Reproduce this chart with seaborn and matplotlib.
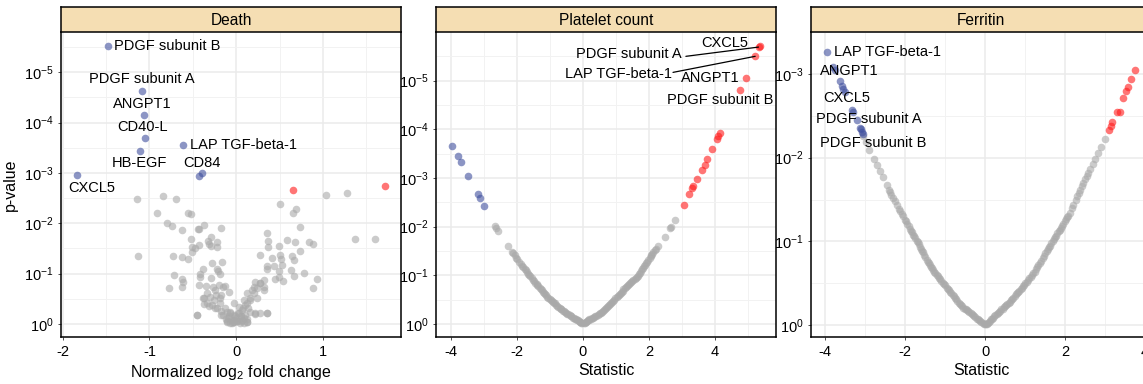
import numpy as np
import pandas as pd
import matplotlib
matplotlib.use("Agg")
import matplotlib.pyplot as plt
import seaborn as sns

# ---------------- data ----------------
# Panel 1: Death  (x = normalized log2 fold change, y = -log10 p)
death_gray_x = [-1.14, -0.84, -0.69, -0.91, -0.80, -0.74, -0.56, -0.52, -0.63, -0.44, -0.43, -0.37, -0.18,
                -0.52, -0.29, -0.32, -0.22, -0.43, -0.51, -0.47, -0.31, -0.29, -0.51, -0.22, -1.13, -0.73,
                -0.63, -0.55, -0.16, -0.28, -0.38, -0.22, -0.21, -0.42, -0.19, -0.72, -0.62, -0.29, -0.42,
                -0.61, -0.62, -0.77, -0.43, -0.35, -0.27, -0.20, -0.13, -0.08, -0.37, -0.30, -0.23, -0.45,
                -0.37, -0.31, -0.19, -0.24, -0.17, -0.11, -0.15, -0.07, -0.09, -0.03, -0.11, -0.05, 0.01,
                -0.01, -0.26, -0.34, -0.19,
                0.51, 0.69, 0.65, 0.35, 0.58, 0.68, 0.37, 0.37, 0.49, 0.74, 0.84, 0.88, 0.74, 0.27, 0.41,
                0.50, 0.52, 0.64, 0.67, 0.36, 0.36, 0.53, 0.43, 0.63, 0.78, 0.49, 0.49, 0.45, 0.54, 0.67,
                0.93, 0.89, 0.35, 0.28, 0.22, 0.12, 0.20, 0.32, 0.24, 0.16, 0.10, 0.07, 0.14, 0.05, 0.28,
                0.32, 0.22, 0.18, 0.09, 0.03, 0.09, 0.12,
                1.04, 1.28, 1.37, 1.60,
                -0.11, -0.05, 0.01, 0.07, 0.12, -0.03, 0.02, -0.07, -0.13, -0.17, -0.22, -0.28, -0.34, -0.38,
                -0.45, 0.08, 0.12, 0.16, 0.20, 0.24, 0.28, 0.32, 0.16, 0.22, 0.35, 0.03, -0.03, -0.18, -0.24,
                -0.15, -0.08, 0.00, 0.05, 0.10, 0.09, -0.07, 0.04, -0.02, 0.13, -0.12, 0.06, -0.04]
death_gray_y = [2.49, 2.55, 2.48, 2.21, 2.00, 1.95, 2.21, 2.19, 1.87, 1.88, 1.89, 1.96, 1.90,
                1.69, 1.73, 1.65, 1.63, 1.57, 1.53, 1.51, 1.58, 1.55, 1.43, 1.53, 1.34, 1.34,
                1.32, 1.28, 1.24, 1.21, 1.10, 1.10, 1.06, 1.00, 0.99, 0.98, 0.89, 0.91, 0.93,
                0.83, 0.73, 0.71, 0.77, 0.76, 0.73, 0.77, 0.75, 0.63, 0.52, 0.53, 0.58, 0.18,
                0.39, 0.36, 0.41, 0.31, 0.26, 0.24, 0.18, 0.21, 0.11, 0.08, 0.03, 0.01, 0.05,
                0.15, 0.48, 0.61, 0.51,
                2.39, 2.29, 2.21, 1.80, 1.67, 1.63, 1.64, 1.53, 1.55, 1.92, 1.63, 1.59, 1.45, 1.36, 1.30,
                1.37, 1.28, 1.34, 1.27, 1.15, 1.10, 1.18, 1.16, 1.07, 1.02, 1.05, 0.94, 0.89, 0.85, 0.95,
                0.90, 0.71, 0.21, 0.21, 0.20, 0.61, 0.74, 0.67, 0.51, 0.48, 0.37, 0.27, 0.31, 0.15, 0.81,
                0.87, 0.84, 0.67, 0.48, 0.21, 0.11, 0.03,
                2.56, 2.61, 1.69, 1.69,
                0.05, 0.08, 0.05, 0.08, 0.03, 0.18, 0.21, 0.24, 0.31, 0.18, 0.31, 0.38, 0.41, 0.51,
                0.18, 0.31, 0.41, 0.51, 0.61, 0.71, 0.81, 0.74, 0.24, 0.21, 0.21, 0.34, 0.41, 0.58, 0.67,
                0.74, 0.15, 0.12, 0.15, 0.18, 0.01, 0.01, 0.02, 0.04, 0.09, 0.10, 0.06, 0.03]
death_up_x = [0.65, 1.71]
death_up_y = [2.66, 2.74]
death_down_names = ["PDGF subunit B", "PDGF subunit A", "ANGPT1", "CD40-L", "LAP TGF-beta-1",
                    "HB-EGF", "CD84", "CD84b", "CXCL5"]
death_down_x = [-1.48, -1.09, -1.06, -1.05, -0.61, -1.11, -0.43, -0.40, -1.84]
death_down_y = [5.52, 4.62, 4.16, 3.69, 3.55, 3.43, 2.94, 3.00, 2.96]

# Panel 2: Platelet count (x = statistic, y = -log10 p)
plt_gray_x = [-2.67, -2.62, -2.56, -2.27, -2.15, -2.11, -2.07, -2.02, -1.99, -1.88, -1.84, -1.81, -1.76,
              -1.70, -1.65, -1.60, -1.55, -1.51, -1.45, -1.40, -1.35, -1.28, -1.22, -1.18, -1.12, -1.05,
              -1.00, -0.95, -0.90, -0.85, -0.80, -0.74, -0.70, -0.65, -0.60, -0.55, -0.50, -0.45, -0.40,
              -0.35, -0.30, -0.25, -0.20, -0.16, -0.12, -0.08, -0.05, -0.02,
              0.02, 0.05, 0.08, 0.12, 0.16, 0.20, 0.25, 0.30, 0.35, 0.40, 0.45, 0.52, 0.58, 0.64, 0.70,
              0.76, 0.82, 0.88, 0.95, 1.02, 1.08, 1.14, 1.20, 1.27, 1.34, 1.40, 1.46, 1.53, 1.60, 1.66,
              1.73, 1.80, 1.86, 1.92, 1.98, 2.05, 2.10, 2.13, 2.18, 2.22, 2.29, 2.48, 2.65, 2.67, 2.79,
              -1.93, -1.73, -1.62, -1.48, -1.38, -1.31, -1.25, -1.15, -1.08, -0.97, -0.87, -0.77, -0.67,
              -0.57, -0.47, -0.37, -0.27, -0.18, -0.10,
              0.10, 0.18, 0.27, 0.37, 0.48, 0.55, 0.61, 0.67, 0.73, 0.79, 0.85, 0.91, 0.98, 1.05, 1.11,
              1.17, 1.23, 1.30, 1.37, 1.43, 1.50, 1.57, 1.63, 1.70, 1.76, 1.83, 1.89, 1.95, 2.02, 2.07]
plt_gray_y = [2.02, 1.97, 1.91, 1.60, 1.48, 1.45, 1.41, 1.36, 1.33, 1.23, 1.19, 1.16, 1.12,
              1.07, 1.02, 0.98, 0.94, 0.90, 0.85, 0.81, 0.77, 0.71, 0.66, 0.63, 0.59, 0.54,
              0.51, 0.48, 0.45, 0.42, 0.38, 0.35, 0.32, 0.30, 0.27, 0.25, 0.22, 0.20, 0.18,
              0.16, 0.13, 0.11, 0.09, 0.07, 0.05, 0.035, 0.02, 0.01,
              0.01, 0.02, 0.035, 0.05, 0.07, 0.09, 0.11, 0.13, 0.15, 0.17, 0.19, 0.22, 0.25, 0.29, 0.32,
              0.36, 0.40, 0.44, 0.50, 0.56, 0.60, 0.64, 0.68, 0.74, 0.78, 0.82, 0.86, 0.90, 0.95, 0.99,
              1.04, 1.12, 1.18, 1.25, 1.31, 1.39, 1.44, 1.47, 1.51, 1.54, 1.60, 1.79, 1.97, 1.99, 2.14,
              1.28, 1.10, 1.00, 0.88, 0.79, 0.74, 0.69, 0.61, 0.56, 0.50, 0.43, 0.37, 0.31,
              0.26, 0.21, 0.17, 0.12, 0.08, 0.04,
              0.04, 0.08, 0.12, 0.16, 0.20, 0.23, 0.27, 0.30, 0.34, 0.38, 0.42, 0.46, 0.53, 0.58, 0.62,
              0.66, 0.71, 0.76, 0.80, 0.84, 0.88, 0.93, 0.97, 1.02, 1.08, 1.15, 1.21, 1.28, 1.35, 1.42]
plt_up_names = ["CXCL5", "PDGF subunit A", "LAP TGF-beta-1", "ANGPT1", "PDGF subunit B"]
plt_up_named_x = [5.36, 5.32, 5.22, 4.93, 4.75]
plt_up_named_y = [5.72, 5.69, 5.50, 5.06, 4.80]
plt_up_x = [4.15, 4.10, 4.07, 3.92, 3.77, 3.69, 3.61, 3.45, 3.34, 3.31, 3.22, 3.05]
plt_up_y = [3.92, 3.86, 3.81, 3.59, 3.38, 3.27, 3.16, 2.97, 2.83, 2.80, 2.67, 2.45]
plt_down_x = [-3.96, -3.78, -3.70, -3.48, -3.19, -3.12, -2.99]
plt_down_y = [3.66, 3.46, 3.32, 3.04, 2.66, 2.58, 2.43]

# Panel 3: Ferritin (x = statistic, y = -log10 p)
fer_gray_x = [-3.04, -2.98, -2.89, -2.77, -2.69, -2.62, -2.55, -2.46, -2.40, -2.34, -2.29, -2.25, -2.21,
              -2.15, -2.08, -2.00, -1.94, -1.88, -1.83, -1.77, -1.71, -1.66, -1.60, -1.55, -1.50, -1.46,
              -1.40, -1.35, -1.29, -1.24, -1.18, -1.12, -1.06, -1.00, -0.96, -0.90, -0.84, -0.78, -0.72,
              -0.66, -0.60, -0.54, -0.48, -0.42, -0.36, -0.30, -0.24, -0.18, -0.12, -0.06, 0.00,
              0.05, 0.10, 0.15, 0.20, 0.25, 0.29, 0.35, 0.41, 0.47, 0.53, 0.59, 0.65, 0.71, 0.77, 0.83,
              0.89, 0.95, 1.01, 1.07, 1.14, 1.21, 1.27, 1.33, 1.40, 1.47, 1.54, 1.60, 1.66, 1.72, 1.78,
              1.84, 1.90, 1.96, 2.03, 2.08, 2.13, 2.18, 2.21, 2.27, 2.34, 2.42, 2.50, 2.57, 2.63, 2.69,
              2.75, 2.83, 2.90, 3.00,
              -2.37, -2.12, -2.04, -1.97, -1.91, -1.85, -1.80, -1.74, -1.68, -1.63, -1.58, -1.52, -1.43,
              -1.38, -1.32, -1.27, -1.21, -1.15, -1.09, -1.03, -0.93, -0.87, -0.81, -0.75, -0.69, -0.63,
              -0.57, -0.51, -0.45, -0.39, -0.33, -0.27, -0.21, -0.15, -0.09, -0.03,
              0.03, 0.08, 0.12, 0.18, 0.23, 0.32, 0.38, 0.44, 0.50, 0.56, 0.62, 0.68, 0.74, 0.80, 0.86,
              0.92, 0.98, 1.04, 1.10, 1.17, 1.24, 1.30, 1.37, 1.44, 1.50, 1.57, 1.63, 1.69, 1.75, 1.81,
              1.87, 1.93, 2.00, 2.06, 2.30, 2.38, 2.46, 2.54]
fer_gray_y = [2.26, 2.19, 2.09, 1.99, 1.91, 1.84, 1.77, 1.68, 1.62, 1.56, 1.52, 1.48, 1.44,
              1.39, 1.33, 1.26, 1.21, 1.15, 1.11, 1.06, 1.01, 0.97, 0.91, 0.87, 0.82, 0.78,
              0.74, 0.70, 0.66, 0.62, 0.59, 0.55, 0.51, 0.48, 0.45, 0.42, 0.38, 0.35, 0.31,
              0.27, 0.24, 0.21, 0.19, 0.17, 0.15, 0.12, 0.10, 0.07, 0.05, 0.03, 0.01,
              0.02, 0.04, 0.07, 0.09, 0.12, 0.14, 0.16, 0.19, 0.22, 0.24, 0.27, 0.30, 0.33, 0.37, 0.40,
              0.43, 0.47, 0.50, 0.54, 0.58, 0.62, 0.67, 0.72, 0.77, 0.83, 0.89, 0.93, 0.98, 1.03, 1.07,
              1.12, 1.16, 1.21, 1.27, 1.31, 1.34, 1.40, 1.44, 1.50, 1.58, 1.66, 1.75, 1.82, 1.87, 1.93,
              1.98, 2.06, 2.13, 2.22,
              1.59, 1.36, 1.30, 1.24, 1.18, 1.13, 1.08, 1.04, 0.99, 0.94, 0.89, 0.84, 0.76,
              0.72, 0.68, 0.64, 0.60, 0.57, 0.53, 0.49, 0.43, 0.40, 0.36, 0.33, 0.29, 0.25,
              0.23, 0.20, 0.18, 0.16, 0.13, 0.11, 0.08, 0.06, 0.04, 0.02,
              0.01, 0.03, 0.05, 0.08, 0.11, 0.15, 0.17, 0.20, 0.23, 0.25, 0.28, 0.31, 0.35, 0.38, 0.41,
              0.45, 0.48, 0.52, 0.56, 0.60, 0.64, 0.70, 0.74, 0.80, 0.86, 0.91, 0.95, 1.00, 1.05, 1.10,
              1.14, 1.18, 1.24, 1.29, 1.54, 1.62, 1.70, 1.78]
fer_up_x = [3.11, 3.14, 3.18, 3.29, 3.38, 3.44, 3.52, 3.58, 3.64, 3.74]
fer_up_y = [2.33, 2.38, 2.42, 2.54, 2.54, 2.71, 2.79, 2.84, 2.94, 3.05]
fer_down_x = [-3.94, -3.79, -3.75, -3.63, -3.58, -3.54, -3.50, -3.33, -3.31, -3.21, -3.13, -3.11, -3.08, -3.04]
fer_down_y = [3.26, 3.08, 3.05, 2.91, 2.86, 2.82, 2.78, 2.57, 2.55, 2.45, 2.36, 2.34, 2.31, 2.28]

panel_titles = ["Death", "Platelet count", "Ferritin"]

# ---------------- style ----------------
sns.set_theme(style="white")
plt.rcParams["font.family"] = ["Liberation Sans", "DejaVu Sans"]
plt.rcParams["mathtext.fontset"] = "custom"
plt.rcParams["mathtext.rm"] = "Liberation Sans"
plt.rcParams["mathtext.it"] = "Liberation Sans:italic"
plt.rcParams["mathtext.bf"] = "Liberation Sans:bold"
plt.rcParams["text.color"] = "black"
plt.rcParams["axes.labelcolor"] = "black"
plt.rcParams["xtick.color"] = "black"
plt.rcParams["ytick.color"] = "black"

palette = {"ns": "#A9A9A9", "up": "#FF1A1A", "down": "#3F4F9E"}
PT_SIZE = 30
ALPHA = 0.6

fig = plt.figure(figsize=(11.43, 3.84), dpi=100)
W, H = 1143.0, 384.0
plot_top, plot_bot, head_top = 32, 337, 7
lefts = [61, 436, 811]
width = 340

def make_df(gx, gy, ux, uy, dx, dy):
    return pd.DataFrame({
        "x": list(gx) + list(ux) + list(dx),
        "y": list(gy) + list(uy) + list(dy),
        "grp": ["ns"] * len(gx) + ["up"] * len(ux) + ["down"] * len(dx),
    })

dfs = [
    make_df(death_gray_x, death_gray_y, death_up_x, death_up_y, death_down_x, death_down_y),
    make_df(plt_gray_x, plt_gray_y, plt_up_x + plt_up_named_x, plt_up_y + plt_up_named_y,
            plt_down_x, plt_down_y),
    make_df(fer_gray_x, fer_gray_y, fer_up_x, fer_up_y, fer_down_x, fer_down_y),
]

xlims = [(-2.02, 1.9), (-4.45, 5.85), (-4.35, 4.15)]
ylims = [(-0.26, 5.8), (-0.27, 6.0), (-0.14, 3.42)]
xmajor = [[-2, -1, 0, 1], [-4, -2, 0, 2, 4], [-4, -2, 0, 2, 4]]
xminor = [[-1.5, -0.5, 0.5, 1.5], [-3, -1, 1, 3, 5], [-3, -1, 1, 3]]
ymax_tick = [5, 5, 3]
xlabels = [r"Normalized log$_{2}$ fold change", "Statistic", "Statistic"]

axes = []
for i in range(3):
    l = lefts[i] / W
    ax = fig.add_axes([l, 1 - plot_bot / H, width / W, (plot_bot - plot_top) / H])
    hx = fig.add_axes([l, 1 - plot_top / H, width / W, (plot_top - head_top) / H])
    hx.set_facecolor("#F5DEB3")
    hx.set_xticks([]); hx.set_yticks([])
    for s in hx.spines.values():
        s.set_color("black"); s.set_linewidth(1.1)
    hx.text(0.5, 0.45, panel_titles[i], ha="center", va="center", fontsize=11.2,
            color="black", transform=hx.transAxes)

    d = dfs[i]
    for g in ["ns", "down", "up"]:
        sub = d[d["grp"] == g]
        sns.scatterplot(data=sub, x="x", y="y", color=palette[g], s=PT_SIZE, alpha=ALPHA,
                        linewidth=0, ax=ax, legend=False, zorder=3)
    ax.set_xlim(*xlims[i]); ax.set_ylim(*ylims[i])
    ax.set_xticks(xmajor[i]); ax.set_xticks(xminor[i], minor=True)
    ax.set_xticklabels([f"{v:g}" for v in xmajor[i]])
    yt = list(range(0, ymax_tick[i] + 1))
    ax.set_yticks(yt)
    ax.set_yticks([v + 0.5 for v in yt], minor=True)
    ax.set_yticklabels([r"$\mathregular{10^{%s}}$" % ("0" if v == 0 else "-%d" % v) for v in yt])
    ax.grid(which="major", color="#EBEBEB", linewidth=1.1, zorder=0)
    ax.grid(which="minor", color="#F2F2F2", linewidth=0.7, zorder=0)
    ax.set_axisbelow(True)
    ax.tick_params(axis="both", which="major", labelsize=10.5, length=2.5, width=0.6,
                   color="#333333", labelcolor="black", pad=3, left=True, bottom=True)
    ax.tick_params(which="minor", length=0)
    for side in ["left", "bottom", "right"]:
        ax.spines[side].set_color("black"); ax.spines[side].set_linewidth(1.1)
    ax.spines["top"].set_visible(False)
    ax.set_xlabel(xlabels[i], fontsize=11.5, labelpad=3, color="black")
    ax.set_ylabel("p-value" if i == 0 else "", fontsize=11.5, color="black")
    axes.append(ax)

# ---------------- labels ----------------
FS = 10.5
ax1, ax2, ax3 = axes
death_label_pos = {
    "PDGF subunit B": (-1.41, 5.52, "left"),
    "PDGF subunit A": (-1.09, 4.86, "center"),
    "ANGPT1": (-1.08, 4.37, "center"),
    "CD40-L": (-1.08, 3.91, "center"),
    "LAP TGF-beta-1": (-0.53, 3.55, "left"),
    "HB-EGF": (-1.11, 3.19, "center"),
    "CD84": (-0.39, 3.19, "center"),
    "CXCL5": (-1.66, 2.70, "center"),
}
for name, (lx, ly, ha) in death_label_pos.items():
    ax1.text(lx, ly, name, ha=ha, va="center", fontsize=FS, color="black", zorder=5)

plt_label_pos = {
    "CXCL5": (4.30, 5.78, "center", None),
    "PDGF subunit A": (3.00, 5.54, "right", (3.12, 5.50)),
    "LAP TGF-beta-1": (2.70, 5.13, "right", (2.73, 5.17)),
    "ANGPT1": (3.86, 5.06, "center", None),
    "PDGF subunit B": (4.15, 4.61, "center", None),
}
for name, (lx, ly, ha, seg) in plt_label_pos.items():
    ax2.text(lx, ly, name, ha=ha, va="center", fontsize=FS, color="black", zorder=5)
    if seg is not None:
        k = plt_up_names.index(name)
        ax2.plot([seg[0], plt_up_named_x[k]], [seg[1], plt_up_named_y[k]], color="black",
                 linewidth=0.9, zorder=4)

fer_label_pos = {
    "LAP TGF-beta-1": (-3.78, 3.26, "left"),
    "ANGPT1": (-3.40, 3.03, "center"),
    "CXCL5": (-3.45, 2.71, "center"),
    "PDGF subunit A": (-2.90, 2.46, "center"),
    "PDGF subunit B": (-2.80, 2.18, "center"),
}
for name, (lx, ly, ha) in fer_label_pos.items():
    ax3.text(lx, ly, name, ha=ha, va="center", fontsize=FS, color="black", zorder=5)

fig.savefig("out.png", dpi=100)
